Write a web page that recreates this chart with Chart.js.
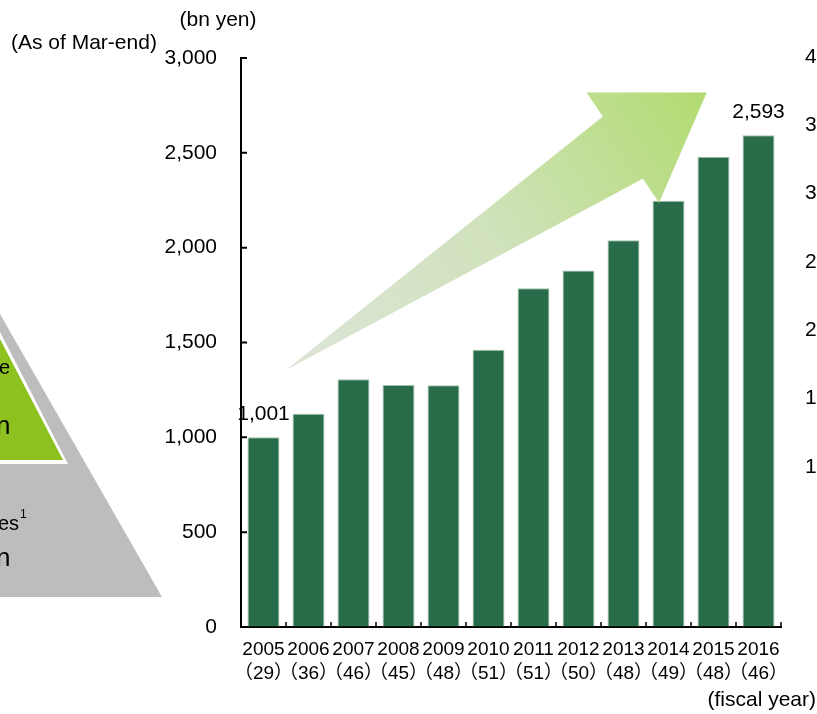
<!DOCTYPE html>
<html>
<head>
<meta charset="utf-8">
<script src="https://cdn.jsdelivr.net/npm/chart.js@4/dist/chart.umd.min.js"></script>
<style>
  body { margin: 0; background: #fff; }
  #wrap { width: 817px; height: 714px; }
</style>
</head>
<body>
<div id="wrap"><canvas id="myChart" width="817" height="714"></canvas></div>
<script>
let years = ["2005", "2006", "2007", "2008", "2009", "2010", "2011", "2012", "2013", "2014", "2015", "2016"];
let counts = [29, 36, 46, 45, 48, 51, 51, 50, 48, 49, 48, 46];
let balance = [1001, 1125, 1306, 1276, 1274, 1462, 1786, 1879, 2039, 2248, 2480, 2593];
let yTicks = [0, 500, 1000, 1500, 2000, 2500, 3000];
let labeledBars = [0, 11];

let fontFamily = "'Liberation Sans', Arial, 'Noto Sans CJK JP', sans-serif";
let barColor = "#286c4a";

let labels = years.map((y, i) => [y, "（" + counts[i] + "）"]);

function fmt(v) {
    return v.toLocaleString("en-US");
}

// pyramid from the neighbouring panel, cut by the left edge
const pyramid = {
    id: "pyramid",
    beforeDraw(chart) {
        const ctx = chart.ctx;
        ctx.save();
        ctx.fillStyle = "#bdbcbe";
        ctx.beginPath();
        ctx.moveTo(0, 314);
        ctx.lineTo(162, 597);
        ctx.lineTo(0, 597);
        ctx.closePath();
        ctx.fill();

        ctx.fillStyle = "#fff";
        ctx.beginPath();
        ctx.moveTo(0, 332);
        ctx.lineTo(68, 464);
        ctx.lineTo(0, 464);
        ctx.closePath();
        ctx.fill();

        ctx.fillStyle = "#8cc11f";
        ctx.beginPath();
        ctx.moveTo(0, 339);
        ctx.lineTo(63, 460);
        ctx.lineTo(0, 460);
        ctx.closePath();
        ctx.fill();

        ctx.fillStyle = "#000";
        ctx.textBaseline = "middle";
        ctx.textAlign = "left";
        ctx.font = "20px " + fontFamily;
        ctx.fillText("e", -1, 368);
        ctx.fillText("es", -2, 524);
        ctx.font = "12px " + fontFamily;
        ctx.fillText("1", 20, 515);
        ctx.font = "26px " + fontFamily;
        ctx.fillText("n", -4, 427);
        ctx.fillText("n", -4, 559);
        ctx.restore();
    }
};

// growth arrow, inward axis ticks, value labels and captions
const extras = {
    id: "extras",
    afterDatasetsDraw(chart) {
        const ctx = chart.ctx;
        const x = chart.scales.x;
        const y = chart.scales.y;
        const area = chart.chartArea;

        const pts = [[0.5, 1355], [7.54, 2692], [7.18, 2818], [9.85, 2818], [8.79, 2237], [8.43, 2364]]
            .map(p => [x.getPixelForValue(p[0]), y.getPixelForValue(p[1])]);
        ctx.save();
        const g = ctx.createLinearGradient(pts[0][0], pts[0][1], pts[3][0], pts[3][1]);
        g.addColorStop(0, "#dde5d8");
        g.addColorStop(0.5, "#d0e2bb");
        g.addColorStop(1, "#b1db70");
        ctx.fillStyle = g;
        ctx.beginPath();
        pts.forEach((p, i) => i ? ctx.lineTo(p[0], p[1]) : ctx.moveTo(p[0], p[1]));
        ctx.closePath();
        ctx.fill();
        ctx.restore();

        ctx.save();
        ctx.strokeStyle = "#000";
        ctx.lineWidth = 2;
        ctx.beginPath();
        yTicks.forEach(v => {
            const py = y.getPixelForValue(v);
            ctx.moveTo(area.left, py);
            ctx.lineTo(area.left + 6, py);
        });
        ctx.stroke();
        ctx.lineWidth = 1.5;
        ctx.beginPath();
        years.forEach((yr, i) => {
            const px = x.getPixelForValue(i + 0.5);
            ctx.moveTo(px, area.bottom);
            ctx.lineTo(px, area.bottom - 5);
        });
        ctx.stroke();

        ctx.fillStyle = "#000";
        ctx.font = "21px " + fontFamily;
        ctx.textAlign = "center";
        ctx.textBaseline = "middle";
        const meta = chart.getDatasetMeta(0);
        labeledBars.forEach(i => {
            const bar = meta.data[i];
            ctx.fillText(fmt(balance[i]), bar.x, bar.y - 23);
        });

        ctx.fillText("(bn yen)", 218, 20);
        ctx.textAlign = "left";
        ctx.fillText("(As of Mar-end)", 11, 43);
        ctx.textAlign = "right";
        ctx.fillText("(fiscal year)", 816, 700);

        // axis of the next panel, cut by the right edge
        ctx.textAlign = "left";
        ["4", "3", "3", "2", "2", "1", "1"].forEach((t, i) => {
            ctx.fillText(t, 805, 57 + i * 68.3);
        });
        ctx.restore();
    }
};

new Chart(document.getElementById("myChart"), {
    type: "bar",
    data: {
        labels: labels,
        datasets: [
            {
                label: "Balance (bn yen)",
                data: balance,
                backgroundColor: barColor,
                borderColor: "#a3c2ad",
                borderWidth: 1,
                categoryPercentage: 1,
                barPercentage: 0.71
            }
        ]
    },
    options: {
        responsive: false,
        animation: false,
        layout: { padding: { top: 58, right: 36, bottom: 0, left: 0 } },
        plugins: {
            legend: { display: false },
            title: { display: false },
            tooltip: { enabled: false }
        },
        scales: {
            x: {
                grid: { display: true, drawOnChartArea: false, drawTicks: false },
                border: { display: true, color: "#000", width: 2 },
                ticks: {
                    color: "#000",
                    font: { family: fontFamily, size: 19, lineHeight: 1.25 },
                    padding: 11,
                    autoSkip: false,
                    maxRotation: 0,
                    minRotation: 0
                },
                afterFit(scale) { scale.height = 87; }
            },
            y: {
                min: 0,
                max: 3000,
                grid: { display: true, drawOnChartArea: false, drawTicks: false },
                border: { display: true, color: "#000", width: 2 },
                ticks: {
                    stepSize: 500,
                    color: "#000",
                    font: { family: fontFamily, size: 21 },
                    padding: 24,
                    callback: v => fmt(v)
                },
                afterFit(scale) { scale.width = 241; }
            }
        }
    },
    plugins: [pyramid, extras]
});
</script>
</body>
</html>
